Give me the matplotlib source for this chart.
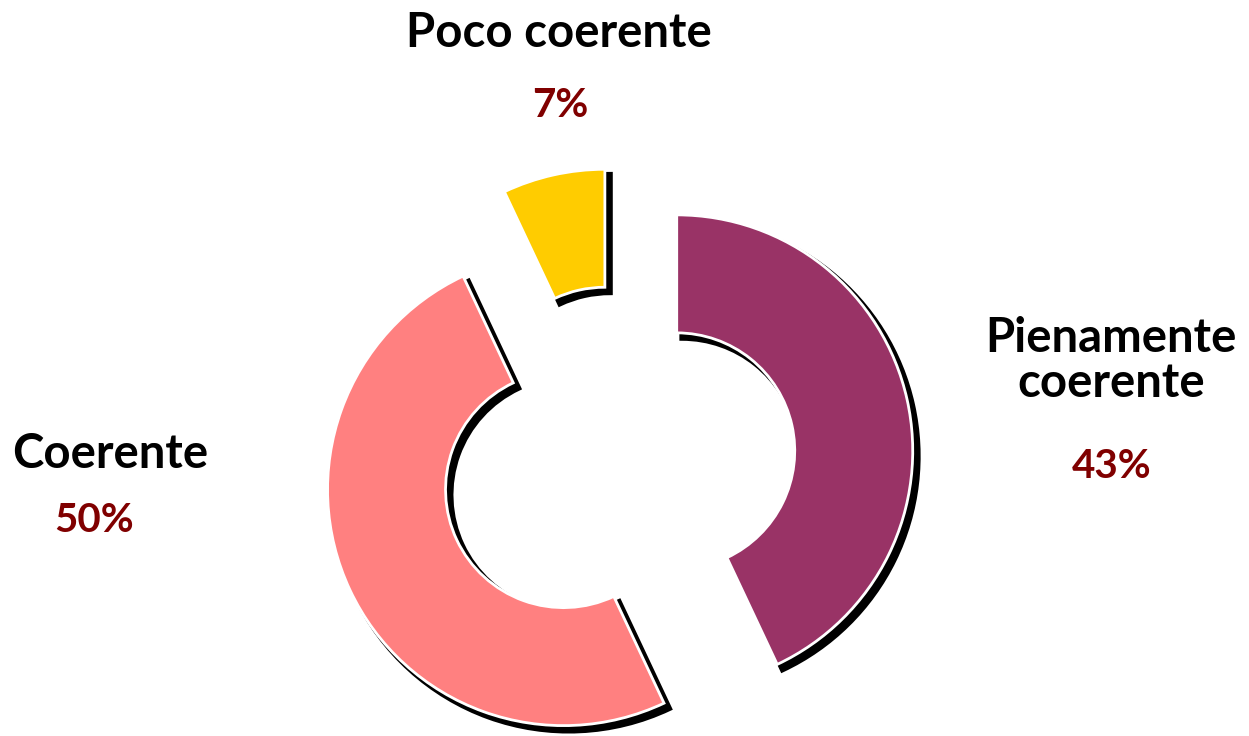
import matplotlib

matplotlib.use("Agg")
import matplotlib.pyplot as plt
import matplotlib.patheffects as pe

plt.rcParams["font.family"] = ["Lato", "DejaVu Sans"]

categories = ["Pienamente\ncoerente", "Coerente", "Poco coerente"]
values = [43, 50, 7]
colors = ["#993366", "#FF8080", "#FFCC00"]
pct_color = "#800000"

fig = plt.figure(figsize=(12.49, 7.36), dpi=100)
ax = fig.add_axes([0, 0, 1, 1])

wedges, _ = ax.pie(
    values,
    colors=colors,
    startangle=90,
    counterclock=False,
    explode=[0.255] * 3,
    radius=1,
    wedgeprops=dict(width=0.5, edgecolor="white", linewidth=2),
)

# black drop shadow to the lower right
for w in wedges:
    w.set_path_effects([
        pe.SimplePatchShadow(offset=(3.8, -3.8), shadow_rgbFace="black", alpha=1.0,
                             linewidth=3.8, foreground="black"),
        pe.Normal(),
    ])

# 236 px per unit, pie centre at pixel (618, 464)
ax.set_xlim(-618 / 236, (1249 - 618) / 236)
ax.set_ylim(-(736 - 464) / 236, 464 / 236)
ax.set_aspect("auto")
ax.axis("off")

# label positions (name, percent) in data units
label_pos = [((2.089, 0.475), (2.093, -0.059)),
             ((-2.153, -0.017), (-2.220, -0.288)),
             ((-0.25, 1.767), (-0.246, 1.470))]

for name, v, (lp, pp) in zip(categories, values, label_pos):
    first = name.split("\n")[0]
    ax.text(lp[0], lp[1], first, ha="center", va="baseline",
            fontsize=34, fontweight="bold", color="black")
    if "\n" in name:
        ax.text(lp[0], lp[1] - 45 / 236, name.split("\n")[1], ha="center", va="baseline",
                fontsize=34, fontweight="bold", color="black")
    ax.text(pp[0], pp[1], f"{v}%", ha="center", va="baseline",
            fontsize=29, fontweight="bold", color=pct_color)

plt.savefig("out.png", dpi=100)
